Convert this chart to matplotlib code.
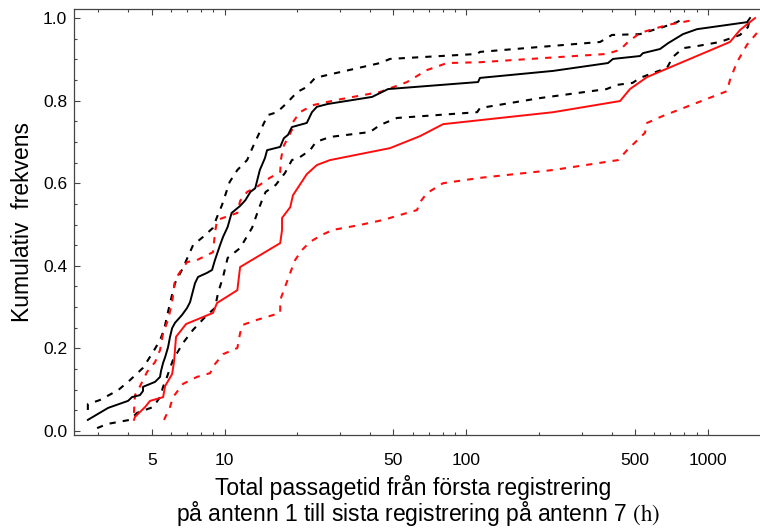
import numpy as np
from matplotlib import pyplot as plt
from matplotlib.ticker import FixedLocator, NullFormatter, FuncFormatter

plt.rcParams['font.family']      = ['Liberation Sans', 'DejaVu Sans']
plt.rcParams['mathtext.fontset'] = 'stix'

# cumulative frequency of total passage time (h), black group
black_x       = [2.72, 3.30, 3.99, 4.14, 4.47, 4.60, 4.60, 5.16, 5.41, 5.46,
                 5.57, 5.68, 5.84, 5.95, 6.07, 6.24, 6.67, 7.00, 7.20, 7.55,
                 7.77, 8.47, 8.88, 9.13, 9.58, 9.86, 10.3, 10.7, 11.6, 12.2,
                 12.8, 13.4, 14.0, 14.7, 15.0, 17.0, 17.6, 18.3, 19.0, 21.9,
                 23.0, 24.1, 26.8, 40.8, 47.5, 112, 114, 229, 386, 405,
                 524, 539, 634, 684, 789, 901, 1452, 1494]
black_y       = [.027, .056, .073, .082, .087, .097, .107, .119, .131, .145,
                 .165, .179, .203, .228, .249, .262, .281, .298, .312, .358,
                 .373, .383, .390, .414, .450, .470, .494, .528, .545, .559,
                 .579, .588, .632, .661, .680, .688, .709, .717, .736, .746,
                 .772, .785, .792, .809, .828, .845, .855, .872, .891, .901,
                 .908, .915, .925, .939, .961, .973, .990, 1.0]

black_upper_x = [2.72, 2.72, 3.05, 3.63, 4.06, 4.60, 5.06, 5.41, 5.62, 5.95,
                 6.24, 6.73, 7.41, 8.15, 8.96, 9.31, 9.76, 10.5, 11.3, 12.4,
                 13.1, 14.3, 15.1, 16.5, 18.1, 20.0, 21.9, 23.7, 26.6, 44.0,
                 48.4, 111, 114, 358, 401, 524, 593, 652, 745, 800]
black_upper_y = [.051, .065, .075, .099, .123, .153, .191, .220, .245, .310,
                 .358, .395, .450, .470, .492, .518, .547, .603, .632, .656,
                 .688, .736, .765, .772, .794, .821, .833, .855, .862, .891,
                 .901, .913, .918, .942, .959, .961, .971, .978, .990, 1.0]

black_lower_x = [2.97, 3.27, 4.06, 4.35, 5.06, 5.41, 5.57, 5.78, 6.12, 6.73,
                 7.41, 8.47, 9.13, 9.40, 9.86, 10.3, 11.6, 13.0, 13.8, 14.3,
                 14.8, 16.3, 17.8, 19.0, 20.5, 22.6, 23.9, 27.3, 40.0, 44.0,
                 51.7, 111, 114, 201, 381, 419, 488, 524, 593, 677,
                 717, 789, 901, 1122, 1358, 1465, 1494]
black_lower_y = [.007, .017, .027, .044, .058, .082, .107, .131, .172, .213,
                 .245, .281, .298, .334, .373, .419, .443, .492, .535, .559,
                 .579, .596, .625, .656, .663, .680, .700, .712, .724, .741,
                 .758, .772, .782, .806, .828, .838, .843, .855, .867, .879,
                 .906, .927, .932, .942, .959, .978, 1.0]

# red group
red_x         = [4.22, 4.26, 4.69, 4.92, 5.57, 5.68, 6.07, 6.18, 6.30, 6.93,
                 8.96, 9.31, 11.3, 11.6, 17.0, 17.3, 17.3, 18.7, 19.2, 21.9,
                 24.1, 27.3, 48.4, 64.4, 80.2, 229, 433, 476, 560, 1234,
                 1358, 1567]
red_y         = [.027, .034, .058, .073, .082, .109, .138, .167, .228, .259,
                 .286, .310, .341, .397, .455, .487, .516, .542, .571, .622,
                 .644, .656, .685, .714, .743, .772, .799, .828, .857, .942,
                 .971, 1.0]

red_upper_x   = [4.22, 4.26, 4.39, 4.78, 5.16, 5.41, 5.57, 5.84, 6.07, 6.24,
                 6.54, 7.00, 7.69, 8.47, 8.96, 9.13, 9.31, 11.3, 11.6, 12.4,
                 13.6, 15.4, 17.0, 17.1, 17.5, 19.0, 19.2, 20.5, 23.2, 28.7,
                 44.0, 56.9, 68.8, 83.3, 114, 381, 433, 467, 524, 677, 868]
red_upper_y   = [.044, .087, .099, .143, .167, .196, .237, .269, .312, .366,
                 .385, .409, .414, .426, .433, .479, .511, .528, .557, .579,
                 .591, .613, .627, .656, .688, .729, .748, .772, .789, .801,
                 .821, .845, .874, .891, .893, .913, .923, .942, .964, .983, .995]

red_lower_x   = [5.62, 5.95, 6.12, 6.73, 7.69, 8.71, 9.13, 9.86, 11.3, 11.6,
                 11.9, 13.6, 17.0, 17.0, 17.8, 18.7, 19.6, 20.9, 22.6, 25.3,
                 28.1, 36.4, 45.3, 53.2, 62.6, 64.4, 68.8, 80.2, 114, 229,
                 425, 463, 549, 560, 652, 1200, 1234, 1319, 1451, 1596, 1750]
red_lower_y   = [.027, .058, .082, .114, .131, .140, .162, .186, .201, .237,
                 .257, .269, .286, .317, .349, .383, .414, .438, .458, .475,
                 .487, .499, .511, .523, .535, .554, .576, .600, .613, .632,
                 .656, .680, .722, .746, .763, .823, .850, .893, .935, .964, 1.0]

x_major = [5, 10, 50, 100, 500, 1000]
x_minor = [3, 4, 6, 7, 8, 9, 20, 30, 40, 60, 70, 80, 90,
           200, 300, 400, 600, 700, 800, 900]

fig = plt.figure(figsize=(7.6, 5.28), dpi=100)
ax  = fig.add_axes([0.0974, 0.1761, 0.9026, 0.8068])

dash = (3.0, 3.4)
ax.plot(black_upper_x, black_upper_y, color='black', lw=1.5, dashes=dash)
ax.plot(black_lower_x, black_lower_y, color='black', lw=1.5, dashes=dash)
ax.plot(red_upper_x,   red_upper_y,   color='#ff0d0d', lw=1.5, dashes=dash)
ax.plot(red_lower_x,   red_lower_y,   color='#ff0d0d', lw=1.5, dashes=dash)
ax.plot(red_x,         red_y,         color='#ff0d0d', lw=1.4)
ax.plot(black_x,       black_y,       color='black',   lw=1.4)

ax.set_xscale('log')
ax.set_xlim(2.384, 1643)
ax.set_ylim(-0.0097, 1.0218)

ax.xaxis.set_major_locator(FixedLocator(x_major))
ax.xaxis.set_minor_locator(FixedLocator(x_minor))
ax.xaxis.set_major_formatter(FuncFormatter(lambda v, p: '%d' % v))
ax.xaxis.set_minor_formatter(NullFormatter())
ax.set_yticks(np.arange(0, 1.01, 0.2))
ax.set_yticks(np.arange(0, 1.01, 0.05), minor=True)
ax.yaxis.set_major_formatter(FuncFormatter(lambda v, p: '%.1f' % v))

ax.tick_params(which='both', direction='in', top=True, right=False,
               color='#444444', width=0.8)
ax.tick_params(which='major', length=4, labelsize=12.5)
ax.tick_params(which='minor', length=2)
ax.tick_params(axis='x', which='major', pad=13)
ax.tick_params(axis='y', which='major', pad=5)

for side in ['left', 'bottom', 'top']:
    ax.spines[side].set_color('#444444')
    ax.spines[side].set_linewidth(0.9)
ax.spines['right'].set_visible(False)

fig.text(0.543, 0.076, 'Total passagetid från första registrering',
         fontsize=16.5, ha='center', va='center')
fig.text(0.550, 0.027, 'på antenn 1 till sista registrering på antenn 7 $(\\mathrm{h})$',
         fontsize=16.5, ha='center', va='center')
fig.text(0.030, 0.580, 'Kumulativ  frekvens', fontsize=16.5,
         rotation=90, ha='center', va='center')

plt.savefig('out.png', dpi=100)
